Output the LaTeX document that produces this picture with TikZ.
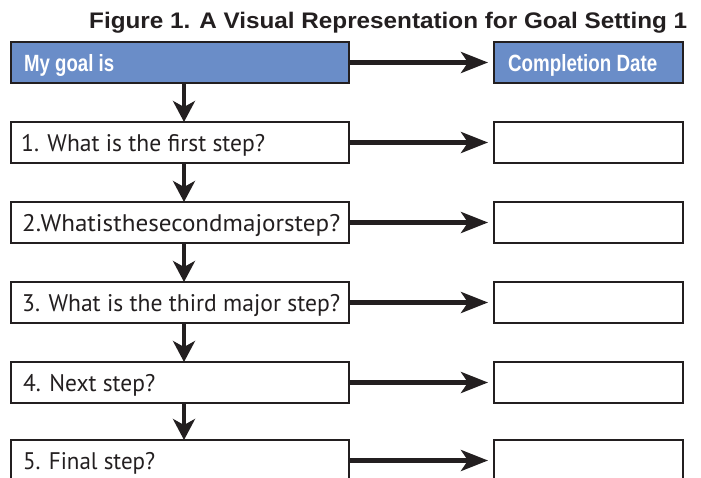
\documentclass[tikz,border=0pt]{standalone}
\usepackage{fontspec}
\usepackage{graphicx}
\setmainfont{PT Sans}
\newfontfamily\headfont{Liberation Sans}
\usetikzlibrary{arrows.meta}
\definecolor{ink}{HTML}{231F20}
\definecolor{goalblue}{HTML}{6A8DC8}
\newcommand{\fitw}[2]{\resizebox{#1}{\height}{#2}}
\tikzset{
  boxbase/.style={draw=ink, line width=2.6pt, minimum height=41pt, inner sep=0pt, outer sep=0pt, anchor=north west},
  leftbox/.style={boxbase, minimum width=338pt},
  rightbox/.style={boxbase, minimum width=189pt},
  bluebox/.style={fill=goalblue},
  harrow/.style={draw=ink, line width=4.5pt, -{Stealth[length=27pt, width=21pt, inset=7pt]}},
  varrow/.style={draw=ink, line width=4pt, -{Stealth[length=21pt, width=22pt, inset=6pt]}},
  steptext/.style={anchor=base west, inner sep=0pt, text=ink, font=\fontsize{24}{26}\selectfont},
  headtext/.style={anchor=base west, inner sep=0pt, text=white, font=\headfont\bfseries\fontsize{23.5}{26}\selectfont},
  titletext/.style={anchor=base west, inner sep=0pt, text=ink, font=\headfont\bfseries\fontsize{22.5}{25}\selectfont}
}
\begin{document}
\begin{tikzpicture}[x=1pt,y=-1pt]
\useasboundingbox (0,0) rectangle (701,478);
\clip (0,0) rectangle (701,478);
\fill[white] (0,0) rectangle (701,478);

\node[titletext] (title) at (89,28.5) {\fitw{598pt}{Figure 1. A Visual Representation for Goal Setting 1}};

\node[leftbox,bluebox] (goal) at (11,42) {};
\node[rightbox,bluebox] (date) at (494,42) {};
\node[leftbox] (s1) at (11,122) {};
\node[rightbox] (d1) at (494,122) {};
\node[leftbox] (s2) at (11,202) {};
\node[rightbox] (d2) at (494,202) {};
\node[leftbox] (s3) at (11,282) {};
\node[rightbox] (d3) at (494,282) {};
\node[leftbox] (s4) at (11,362) {};
\node[rightbox] (d4) at (494,362) {};
\node[leftbox] (s5) at (11,440) {};
\node[rightbox] (d5) at (494,440) {};

\node[headtext] (goaltxt) at (24,72) {\fitw{90pt}{My goal is}};
\node[headtext] (datetxt) at (508,72) {\fitw{149pt}{Completion Date}};
\node[steptext] (t1) at (21,151.5) {\fitw{244pt}{1. What is the first step?}};
\node[steptext] (t2) at (22,231.5) {\fitw{318pt}{2.Whatisthesecondmajorstep?}};
\node[steptext] (t3) at (22,311.5) {\fitw{318pt}{3. What is the third major step?}};
\node[steptext] (t4) at (23,391.5) {\fitw{132pt}{4. Next step?}};
\node[steptext] (t5) at (23,469) {\fitw{132pt}{5. Final step?}};

\foreach \a/\b in {goal/date, s1/d1, s2/d2, s3/d3, s4/d4, s5/d5}{
  \draw[harrow] (\a.east) -- ([xshift=-6pt]\b.west);
}
\foreach \a/\b in {goal/s1, s1/s2, s2/s3, s3/s4, s4/s5}{
  \draw[varrow] ([xshift=4pt]\a.south) -- ([xshift=4pt]\b.north);
}
\end{tikzpicture}
\end{document}
